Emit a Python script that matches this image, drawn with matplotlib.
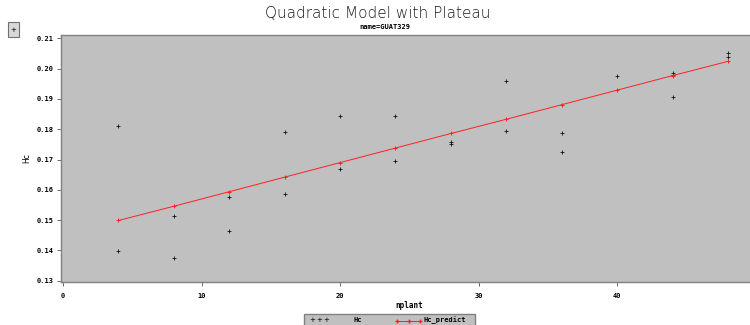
import matplotlib
matplotlib.use('Agg')
from matplotlib import pyplot as plt
from matplotlib.patches import Rectangle

# observed Hc values per nplant level
nplant_obs = [4, 4, 8, 8, 12, 12, 16, 16, 20, 20, 24, 24, 28, 28, 32, 32,
              36, 36, 40, 44, 44, 44, 48, 48]
hc_obs = [0.1811, 0.1399, 0.1515, 0.1376, 0.1575, 0.1465, 0.1791, 0.1588,
          0.1844, 0.1668, 0.1843, 0.1695, 0.1758, 0.1750, 0.1960, 0.1795,
          0.1788, 0.1725, 0.1977, 0.1987, 0.1980, 0.1907, 0.2053, 0.2037]

# model predictions
nplant_pred = [4, 8, 12, 16, 20, 24, 28, 32, 36, 40, 44, 48]
hc_pred = [0.1499, 0.1546, 0.1594, 0.1642, 0.1690, 0.1738, 0.1786, 0.1833,
           0.1881, 0.1929, 0.1977, 0.2024]

xticks = [0, 10, 20, 30, 40, 50]
yticks = [0.13, 0.14, 0.15, 0.16, 0.17, 0.18, 0.19, 0.20, 0.21]

W, H = 750, 325
fig = plt.figure(figsize=(7.5, 3.25), dpi=100)
fig.patch.set_facecolor('white')

# axes spans pixel 61..757 horizontally, 35..282 vertically
ax = fig.add_axes([61 / W, 1 - 282 / H, (757 - 61) / W, (282 - 35) / H])
ax.set_facecolor('#c0c0c0')

ax.plot(nplant_obs, hc_obs, linestyle='none', marker='+', color='#111111',
        markersize=3.2, markeredgewidth=0.6)
ax.plot(nplant_pred, hc_pred, color='#ff2020', linewidth=0.7, marker='+',
        markersize=3.2, markeredgewidth=0.7)

ax.set_xlim(-0.15, 50.1)
ax.set_ylim(0.1296, 0.2111)
ax.set_xticks(xticks)
ax.set_yticks(yticks)
ax.set_xticklabels([str(t) for t in xticks])
ax.set_yticklabels(['%.2f' % t for t in yticks])

for lab in ax.get_xticklabels() + ax.get_yticklabels():
    lab.set_fontfamily('DejaVu Sans Mono')
    lab.set_fontweight('bold')
    lab.set_fontsize(5)
ax.tick_params(axis='both', direction='out', length=3, width=0.6,
               color='#555555', pad=2)
ax.tick_params(axis='x', pad=5)

for sp in ax.spines.values():
    sp.set_color('#808080')
    sp.set_linewidth(1.0)

ax.set_xlabel('nplant', fontfamily='DejaVu Sans Mono', fontweight='bold',
              fontsize=5.5, labelpad=1)
ax.set_ylabel('Hc', fontfamily='DejaVu Sans', fontsize=5.5, labelpad=4)

fig.text(0.503, 1 - 14 / H, 'Quadratic Model with Plateau', ha='center',
         va='center', fontsize=11, color='#1a1a1a', fontweight='light')
fig.text(0.513, 1 - 27 / H, 'name=GUAT329', ha='center', va='center',
         fontsize=5, fontweight='bold', fontfamily='DejaVu Sans Mono')

# small box at top-left corner
fig.patches.append(Rectangle((8 / W, 1 - 37 / H), 11 / W, 15 / H,
                             transform=fig.transFigure, facecolor='#d8d8d8',
                             edgecolor='#707070', linewidth=0.8))
fig.text(13.5 / W, 1 - 30 / H, '+', ha='center', va='center', fontsize=5)

# legend box at the bottom (partly cut off)
fig.patches.append(Rectangle((304 / W, 1 - 330 / H), 171 / W, 16 / H,
                             transform=fig.transFigure, facecolor='#c0c0c0',
                             edgecolor='#808080', linewidth=1.0))
ly = 1 - 320.5 / H
for px in [312, 319, 326]:
    fig.text(px / W, ly, '+', ha='center', va='center', fontsize=5)
fig.text(353 / W, ly, 'Hc', ha='left', va='center', fontsize=5,
         fontweight='bold', fontfamily='DejaVu Sans Mono')
fig.add_artist(plt.Line2D([397 / W, 420 / W], [ly, ly], color='#ff2020',
                          linewidth=0.7, transform=fig.transFigure))
fig.add_artist(plt.Line2D([397 / W, 408.5 / W, 420 / W], [ly, ly, ly],
                          color='#ff2020', marker='+', markersize=3.2,
                          linestyle='none', transform=fig.transFigure))
fig.text(424 / W, ly, 'Hc_predict', ha='left', va='center', fontsize=5,
         fontweight='bold', fontfamily='DejaVu Sans Mono')

fig.savefig('out.png', dpi=100)
